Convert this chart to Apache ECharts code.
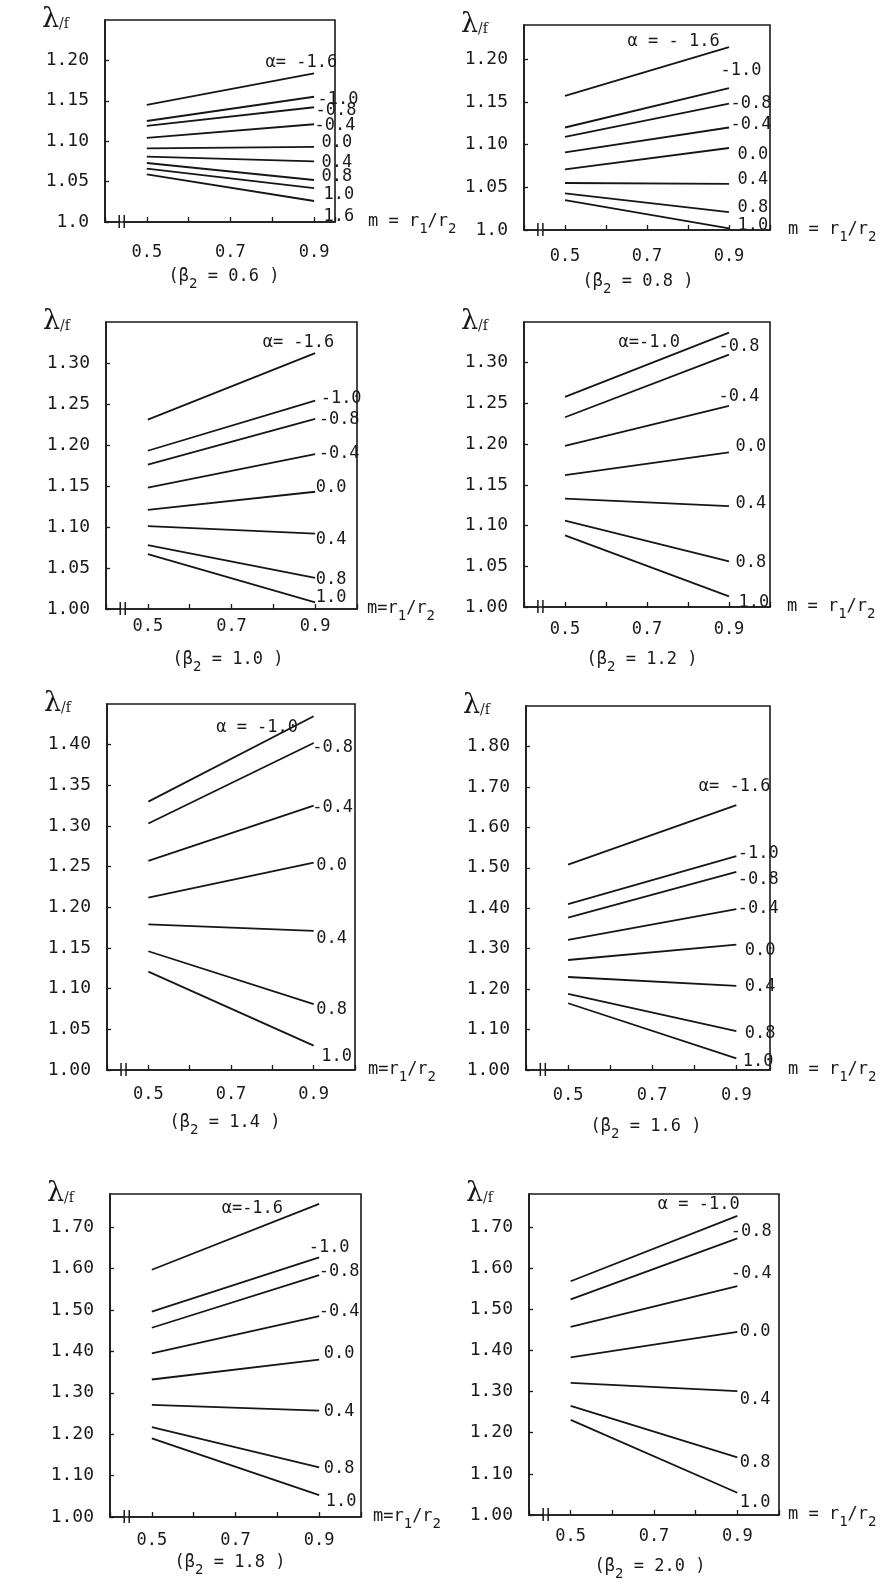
<!DOCTYPE html>
<html>
<head>
<meta charset="utf-8">
<script src="https://cdn.jsdelivr.net/npm/echarts@6/dist/echarts.min.js"></script>
<style>
  html, body { margin: 0; padding: 0; background: #fff; }
  #chart { width: 895px; height: 1589px; }
</style>
</head>
<body>
<div id="chart"></div>
<script>
// m = r1/r2 where each curve starts and ends
const mPoints = [0.5, 0.9];
const betaValues = ['0.6', '0.8', '1.0', '1.2', '1.4', '1.6', '1.8', '2.0'];
const xTicks = ['', '0.5', '', '0.7', '', '0.9'];

// y tick labels
const yTicksA = ['1.0', '1.05', '1.10', '1.15', '1.20'];
const yTicksB = ['1.00', '1.05', '1.10', '1.15', '1.20', '1.25', '1.30'];
const yTicksC = ['1.00', '1.05', '1.10', '1.15', '1.20', '1.25', '1.30', '1.35', '1.40'];
const yTicksD = ['1.00', '1.10', '1.20', '1.30', '1.40', '1.50', '1.60', '1.70', '1.80'];
const yTicksE = ['1.00', '1.10', '1.20', '1.30', '1.40', '1.50', '1.60', '1.70'];

// beta2 = 0.6
const alpha1 = ['α= -1.6', '-1.0', '-0.8', '-0.4', '0.0', '0.4', '0.8', '1.0', '1.6'];
const start1 = [1.145, 1.125, 1.119, 1.104, 1.091, 1.081, 1.073, 1.066, 1.059];
const end1 = [1.184, 1.155, 1.142, 1.121, 1.093, 1.075, 1.052, 1.042, 1.026];
// beta2 = 0.8
const alpha2 = ['α = - 1.6', '-1.0', '-0.8', '-0.4', '0.0', '0.4', '0.8', '1.0'];
const start2 = [1.157, 1.120, 1.109, 1.091, 1.071, 1.055, 1.043, 1.035];
const end2 = [1.214, 1.166, 1.148, 1.120, 1.096, 1.054, 1.021, 1.002];
// beta2 = 1.0
const alpha3 = ['α= -1.6', '-1.0', '-0.8', '-0.4', '0.0', '0.4', '0.8', '1.0'];
const start3 = [1.231, 1.193, 1.176, 1.148, 1.121, 1.101, 1.078, 1.067];
const end3 = [1.312, 1.254, 1.232, 1.189, 1.143, 1.092, 1.038, 1.008];
// beta2 = 1.2
const alpha4 = ['α=-1.0', '-0.8', '-0.4', '0.0', '0.4', '0.8', '1.0'];
const start4 = [1.258, 1.233, 1.198, 1.162, 1.133, 1.106, 1.088];
const end4 = [1.337, 1.310, 1.247, 1.190, 1.124, 1.056, 1.013];
// beta2 = 1.4
const alpha5 = ['α = -1.0', '-0.8', '-0.4', '0.0', '0.4', '0.8', '1.0'];
const start5 = [1.330, 1.303, 1.257, 1.212, 1.179, 1.146, 1.121];
const end5 = [1.435, 1.402, 1.325, 1.255, 1.171, 1.081, 1.030];
// beta2 = 1.6
const alpha6 = ['α= -1.6', '-1.0', '-0.8', '-0.4', '0.0', '0.4', '0.8', '1.0'];
const start6 = [1.508, 1.410, 1.377, 1.322, 1.272, 1.230, 1.188, 1.165];
const end6 = [1.655, 1.529, 1.490, 1.398, 1.310, 1.208, 1.096, 1.029];
// beta2 = 1.8
const alpha7 = ['α=-1.6', '-1.0', '-0.8', '-0.4', '0.0', '0.4', '0.8', '1.0'];
const start7 = [1.597, 1.496, 1.457, 1.395, 1.332, 1.271, 1.217, 1.190];
const end7 = [1.756, 1.627, 1.584, 1.485, 1.380, 1.257, 1.120, 1.053];
// beta2 = 2.0
const alpha8 = ['α = -1.0', '-0.8', '-0.4', '0.0', '0.4', '0.8', '1.0'];
const start8 = [1.568, 1.524, 1.457, 1.383, 1.321, 1.265, 1.231];
const end8 = [1.727, 1.672, 1.556, 1.445, 1.301, 1.140, 1.054];

// where each end label sits relative to the end of its curve (px)
const shift1 = [[-49, -11], [3, 3], [1, 3], [0, 1], [7, -4], [7, 1], [7, -3], [9, 7], [9, 16]];
const shift2 = [[-102, -6], [-9, -18], [1, 0], [1, -3], [8, 7], [8, -4], [8, -4], [8, -3]];
const shift3 = [[-53, -11], [5, -2], [3, 1], [3, 0], [0, -4], [0, 6], [0, 2], [0, -5]];
const shift4 = [[-111, 10], [-11, -8], [-11, -9], [6, -6], [6, -2], [6, 1], [9, 6]];
const shift5 = [[-98, 11], [-2, 5], [-2, 2], [2, 3], [2, 8], [2, 5], [7, 11]];
const shift6 = [[-38, -19], [1, -2], [1, 8], [1, 0], [8, 6], [8, 1], [8, 2], [6, 3]];
const shift7 = [[-98, 5], [-11, -10], [-1, -4], [-1, -5], [4, -6], [4, 1], [4, 1], [6, 7]];
const shift8 = [[-80, -11], [-7, -7], [-7, -13], [2, 0], [2, 8], [2, 5], [2, 10]];

const FONT = 'DejaVu Sans Mono';
const INK = '#1a1a1a';
const breakAt = 0.44;

const panels = [
  { alpha: alpha1, start: start1, end: end1, shift: shift1, yTicks: yTicksA, yMax: 1.25, yStep: 0.05, xMax: 0.95,
    grid: { left: 105, top: 20, width: 230, height: 202 }, xMargin: 22, nameGap: 33, mName: 'm = r{s|1}/r{s|2}', sub: [224, 277] },
  { alpha: alpha2, start: start2, end: end2, shift: shift2, yTicks: yTicksA, yMax: 1.24, yStep: 0.05, xMax: 1.0,
    grid: { left: 524, top: 25, width: 246, height: 205 }, xMargin: 18, nameGap: 18, mName: 'm = r{s|1}/r{s|2}', sub: [638, 282] },
  { alpha: alpha3, start: start3, end: end3, shift: shift3, yTicks: yTicksB, yMax: 1.35, yStep: 0.05, xMax: 1.0,
    grid: { left: 106, top: 322, width: 251, height: 287 }, xMargin: 9, nameGap: 10, mName: 'm=r{s|1}/r{s|2}', sub: [228, 660] },
  { alpha: alpha4, start: start4, end: end4, shift: shift4, yTicks: yTicksB, yMax: 1.35, yStep: 0.05, xMax: 1.0,
    grid: { left: 524, top: 322, width: 246, height: 285 }, xMargin: 14, nameGap: 17, mName: 'm = r{s|1}/r{s|2}', sub: [642, 660] },
  { alpha: alpha5, start: start5, end: end5, shift: shift5, yTicks: yTicksC, yMax: 1.45, yStep: 0.05, xMax: 1.0,
    grid: { left: 107, top: 704, width: 248, height: 366 }, xMargin: 16, nameGap: 13, mName: 'm=r{s|1}/r{s|2}', sub: [225, 1123] },
  { alpha: alpha6, start: start6, end: end6, shift: shift6, yTicks: yTicksD, yMax: 1.90, yStep: 0.1, xMax: 0.98,
    grid: { left: 526, top: 706, width: 244, height: 364 }, xMargin: 17, nameGap: 18, mName: 'm = r{s|1}/r{s|2}', sub: [646, 1127] },
  { alpha: alpha7, start: start7, end: end7, shift: shift7, yTicks: yTicksE, yMax: 1.78, yStep: 0.1, xMax: 1.0,
    grid: { left: 110, top: 1194, width: 251, height: 323 }, xMargin: 15, nameGap: 12, mName: 'm=r{s|1}/r{s|2}', sub: [230, 1563] },
  { alpha: alpha8, start: start8, end: end8, shift: shift8, yTicks: yTicksE, yMax: 1.78, yStep: 0.1, xMax: 1.0,
    grid: { left: 529, top: 1194, width: 250, height: 321 }, xMargin: 13, nameGap: 9, mName: 'm = r{s|1}/r{s|2}', sub: [650, 1567] }
];

const chart = echarts.init(document.getElementById('chart'));

const grids = [], xAxes = [], yAxes = [], series = [];
panels.forEach((p, i) => {
  grids.push(Object.assign({ show: true, borderColor: INK, borderWidth: 1.6, containLabel: false }, p.grid));
  xAxes.push({
    type: 'value', gridIndex: i, min: 0.4, max: p.xMax, interval: 0.1,
    axisLine: { lineStyle: { color: INK, width: 1.6 } },
    axisTick: { inside: true, length: 5, lineStyle: { color: INK, width: 1.3 } },
    splitLine: { show: false },
    axisLabel: { margin: p.xMargin, color: INK, fontFamily: FONT, fontSize: 17,
      formatter: (v, idx) => xTicks[idx] || '' },
    name: p.mName, nameLocation: 'end', nameGap: p.nameGap,
    nameTextStyle: { color: INK, fontFamily: FONT, fontSize: 17, align: 'left', verticalAlign: 'middle',
      rich: { s: { fontFamily: FONT, fontSize: 14, padding: [15, 0, 0, 0], color: INK } } }
  });
  yAxes.push({
    type: 'value', gridIndex: i, min: 1.0, max: p.yMax, interval: p.yStep,
    axisLine: { lineStyle: { color: INK, width: 1.6 } },
    axisTick: { inside: true, length: 4, lineStyle: { color: INK, width: 1.3 } },
    splitLine: { show: false },
    axisLabel: { margin: 16, color: INK, fontFamily: FONT, fontSize: 18, showMaxLabel: false,
      formatter: (v, idx) => p.yTicks[idx] || '' },
    name: '{l|λ}{s|/f}', nameLocation: 'end', nameGap: 0,
    nameTextStyle: { color: INK, align: 'right', verticalAlign: 'middle', padding: [0, 36, 0, 0],
      rich: { l: { fontFamily: 'DejaVu Serif', fontSize: 27, color: INK },
              s: { fontFamily: 'DejaVu Serif', fontSize: 14, padding: [9, 0, 0, 0], color: INK } } }
  });
  p.alpha.forEach((lab, k) => {
    series.push({
      type: 'line', xAxisIndex: i, yAxisIndex: i,
      symbol: 'circle', symbolSize: 1, showSymbol: true,
      itemStyle: { color: 'rgba(0,0,0,0)' },
      lineStyle: { color: '#161616', width: 1.8 },
      label: { show: false },
      emphasis: { disabled: true },
      data: [
        [mPoints[0], p.start[k]],
        { value: [mPoints[1], p.end[k]],
          label: { show: true, position: 'right', distance: 0, offset: p.shift[k],
            formatter: lab, color: INK, fontFamily: FONT, fontSize: 17 } }
      ]
    });
  });
});

chart.setOption({
  animation: false,
  backgroundColor: '#fff',
  grid: grids,
  xAxis: xAxes,
  yAxis: yAxes,
  series: series
});

// subtitles and axis-break marks
const elements = [];
panels.forEach((p, i) => {
  elements.push({
    type: 'text', x: p.sub[0], y: p.sub[1], silent: true,
    style: { text: '(β{s|2} = ' + betaValues[i] + ' )', fill: INK, align: 'center', verticalAlign: 'middle',
      fontFamily: FONT, fontSize: 17,
      rich: { s: { fontFamily: FONT, fontSize: 14, padding: [15, 0, 0, 0], fill: INK } } }
  });
  const pt = chart.convertToPixel({ gridIndex: i }, [breakAt, 1.0]);
  elements.push({ type: 'rect', silent: true, shape: { x: pt[0] - 2, y: pt[1] - 2, width: 4, height: 4 }, style: { fill: '#fff' } });
  elements.push({ type: 'line', silent: true, shape: { x1: pt[0] - 2.5, y1: pt[1] - 7, x2: pt[0] - 2.5, y2: pt[1] + 6 }, style: { stroke: INK, lineWidth: 1.5 } });
  elements.push({ type: 'line', silent: true, shape: { x1: pt[0] + 2.5, y1: pt[1] - 7, x2: pt[0] + 2.5, y2: pt[1] + 6 }, style: { stroke: INK, lineWidth: 1.5 } });
});
chart.setOption({ graphic: { elements: elements } });
</script>
</body>
</html>
